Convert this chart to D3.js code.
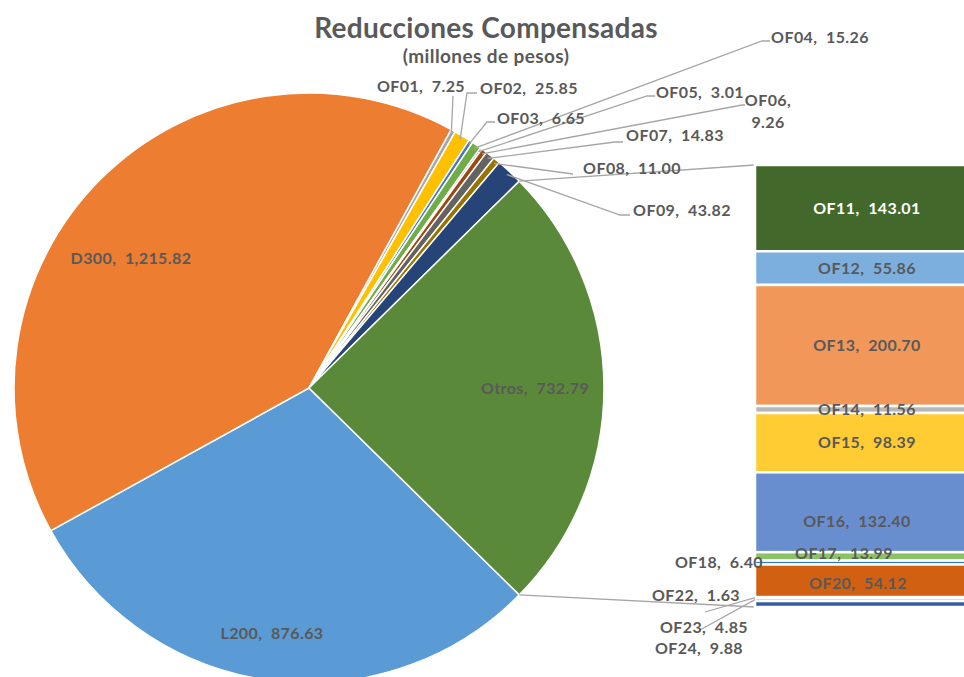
<!DOCTYPE html>
<html>
<head>
<meta charset="utf-8">
<script src="https://cdn.jsdelivr.net/npm/d3@7"></script>
<style>
  body { margin: 0; background: #fff; }
  svg { display: block; font-family: Lato, "Open Sans", sans-serif; }
  text { white-space: pre; }
</style>
</head>
<body>
<svg id="chart" width="964" height="677"></svg>
<script>
// pie slices (clockwise after the "Otros" slice)
const pieNames = ["L200", "D300", "OF01", "OF02", "OF03", "OF04", "OF05", "OF06", "OF07", "OF08", "OF09"];
const pieValues = [876.63, 1215.82, 7.25, 25.85, 6.65, 15.26, 3.01, 9.26, 14.83, 11.00, 43.82];
// secondary bar (makes up "Otros")
const barNames = ["OF11", "OF12", "OF13", "OF14", "OF15", "OF16", "OF17", "OF18", "OF20", "OF22", "OF23", "OF24"];
const barValues = [143.01, 55.86, 200.70, 11.56, 98.39, 132.40, 13.99, 6.40, 54.12, 1.63, 4.85, 9.88];
const otherName = "Otros";

const pieColors = ["#5B9BD5", "#ED7D31", "#A5A5A5", "#FFC000", "#4472C4", "#70AD47",
                   "#255E91", "#9E480E", "#636363", "#997300", "#264478"];
const barColors = ["#43682B", "#7CAFDD", "#F1975A", "#B7B7B7", "#FFCD33", "#698ED0",
                   "#8CC168", "#327DC2", "#D26012", "#848484", "#CC9A00", "#335AA1"];
const otherColor = "#5A8A39";

const width = 964;
const height = 677;
const cx = 309, cy = 388, radius = 295;
const barLeft = 755, barRight = 979, barTop = 165, barBottom = 607;
const textColor = "#595959";
const lineColor = "#A6A6A6";

// label placement (center of text) and leader path for labels Excel moved outside
const labelPos = {
  "D300": { x: 131, y: 258 },
  "L200": { x: 272, y: 633 },
  "Otros": { x: 535, y: 388 },
  "OF01": { x: 421, y: 86, lead: [[453, 96]] },
  "OF02": { x: 529, y: 88, lead: [[467, 93], [477, 93]] },
  "OF03": { x: 541, y: 118, lead: [[487, 122], [495, 122]] },
  "OF04": { x: 820, y: 37, lead: [[762, 41], [770, 41]] },
  "OF05": { x: 700, y: 92, lead: [[647, 96], [655, 96]] },
  "OF06": { x: 768, y: 100, two: true, lead: [[742, 105], [745, 105]] },
  "OF07": { x: 675, y: 135, lead: [[615, 142], [623, 142]] },
  "OF08": { x: 632, y: 168, lead: [[573, 174]] },
  "OF09": { x: 682, y: 210, lead: [[620, 215], [630, 215]] },
  "OF16": { x: 857, y: 521 },
  "OF17": { x: 844, y: 553 },
  "OF18": { x: 719, y: 562 },
  "OF20": { x: 858, y: 583 },
  "OF22": { x: 696, y: 595, lead: [[705, 612]] },
  "OF23": { x: 704, y: 627, lead: [[700, 630]] },
  "OF24": { x: 699, y: 648 }
};

const fmt = d3.format(",.2f");
const svg = d3.select("#chart");

const otherValue = d3.sum(barValues);
const allPie = pieNames.map((n, i) => ({ name: n, value: pieValues[i], color: pieColors[i] }));
allPie.push({ name: otherName, value: otherValue, color: otherColor });
const total = d3.sum(allPie, d => d.value);
const otherAngle = otherValue / total * 2 * Math.PI;
const start = Math.PI / 2 + otherAngle / 2;

const pie = d3.pie().sort(null).value(d => d.value)
  .startAngle(start).endAngle(start + 2 * Math.PI);
const arcs = pie(allPie);
const arc = d3.arc().innerRadius(0).outerRadius(radius);

const g = svg.append("g").attr("transform", `translate(${cx},${cy})`);
g.selectAll("path.slice")
  .data(arcs)
  .join("path")
  .attr("class", "slice")
  .attr("d", arc)
  .attr("fill", d => d.data.color)
  .attr("stroke", "#fff")
  .attr("stroke-width", 1.5);

// connectors pie -> bar
const otherArc = arcs[arcs.length - 1];
const pt = (a, r) => [cx + r * Math.sin(a), cy - r * Math.cos(a)];
const p1 = pt(otherArc.startAngle, radius);
const p2 = pt(otherArc.endAngle, radius);
svg.append("line").attr("x1", p1[0]).attr("y1", p1[1]).attr("x2", barLeft).attr("y2", barTop)
  .attr("stroke", lineColor).attr("stroke-width", 1.3);
svg.append("line").attr("x1", p2[0]).attr("y1", p2[1]).attr("x2", barLeft).attr("y2", barBottom)
  .attr("stroke", lineColor).attr("stroke-width", 1.3);

// bar of pie
const yScale = d3.scaleLinear().domain([0, otherValue]).range([barTop, barBottom]);
let acc = 0;
const stack = barNames.map((n, i) => {
  const s = { name: n, value: barValues[i], color: barColors[i], y0: acc, y1: acc + barValues[i] };
  acc += barValues[i];
  return s;
});
svg.append("g").selectAll("rect")
  .data(stack)
  .join("rect")
  .attr("x", barLeft)
  .attr("width", barRight - barLeft)
  .attr("y", d => yScale(d.y0))
  .attr("height", d => yScale(d.y1) - yScale(d.y0))
  .attr("fill", d => d.color)
  .attr("stroke", "#fff")
  .attr("stroke-width", 2.5);

// leader lines
const leaders = svg.append("g").attr("fill", "none").attr("stroke", lineColor).attr("stroke-width", 1.3);
arcs.forEach(a => {
  const lp = labelPos[a.data.name];
  if (!lp || !lp.lead) return;
  const mid = (a.startAngle + a.endAngle) / 2;
  const pts = [pt(mid, radius - 4)].concat(lp.lead);
  leaders.append("path").attr("d", d3.line()(pts));
});
stack.forEach(s => {
  const lp = labelPos[s.name];
  if (!lp || !lp.lead) return;
  const pts = [[barLeft, yScale((s.y0 + s.y1) / 2)]].concat(lp.lead);
  leaders.append("path").attr("d", d3.line()(pts));
});

// labels
const labels = svg.append("g")
  .attr("font-size", 16).attr("font-weight", 700).attr("letter-spacing", 0.4)
  .attr("fill", textColor).attr("text-anchor", "middle");

function addLabel(name, value, x, y, color, two) {
  if (two) {
    labels.append("text").attr("x", x).attr("y", y).attr("dy", "0.35em").text(name + ",");
    labels.append("text").attr("x", x).attr("y", y + 22).attr("dy", "0.35em").text(fmt(value));
  } else {
    labels.append("text").attr("x", x).attr("y", y).attr("dy", "0.35em")
      .attr("fill", color || null).text(name + ",  " + fmt(value));
  }
}
arcs.forEach(a => {
  const lp = labelPos[a.data.name];
  addLabel(a.data.name, a.data.value, lp.x, lp.y, null, lp.two);
});
const barMid = (barLeft + barRight) / 2;
stack.forEach((s, i) => {
  const lp = labelPos[s.name] || { x: barMid, y: yScale((s.y0 + s.y1) / 2) };
  addLabel(s.name, s.value, lp.x, lp.y, i === 0 ? "#fff" : null);
});

// title
svg.append("text").attr("x", 486).attr("y", 28).attr("dy", "0.35em")
  .attr("text-anchor", "middle").attr("font-size", 28).attr("font-weight", 700)
  .attr("letter-spacing", 0.3)
  .attr("fill", textColor).text("Reducciones Compensadas");
svg.append("text").attr("x", 486).attr("y", 56).attr("dy", "0.35em")
  .attr("text-anchor", "middle").attr("font-size", 19).attr("font-weight", 700)
  .attr("letter-spacing", 0.4)
  .attr("fill", textColor).text("(millones de pesos)");
</script>
</body>
</html>
